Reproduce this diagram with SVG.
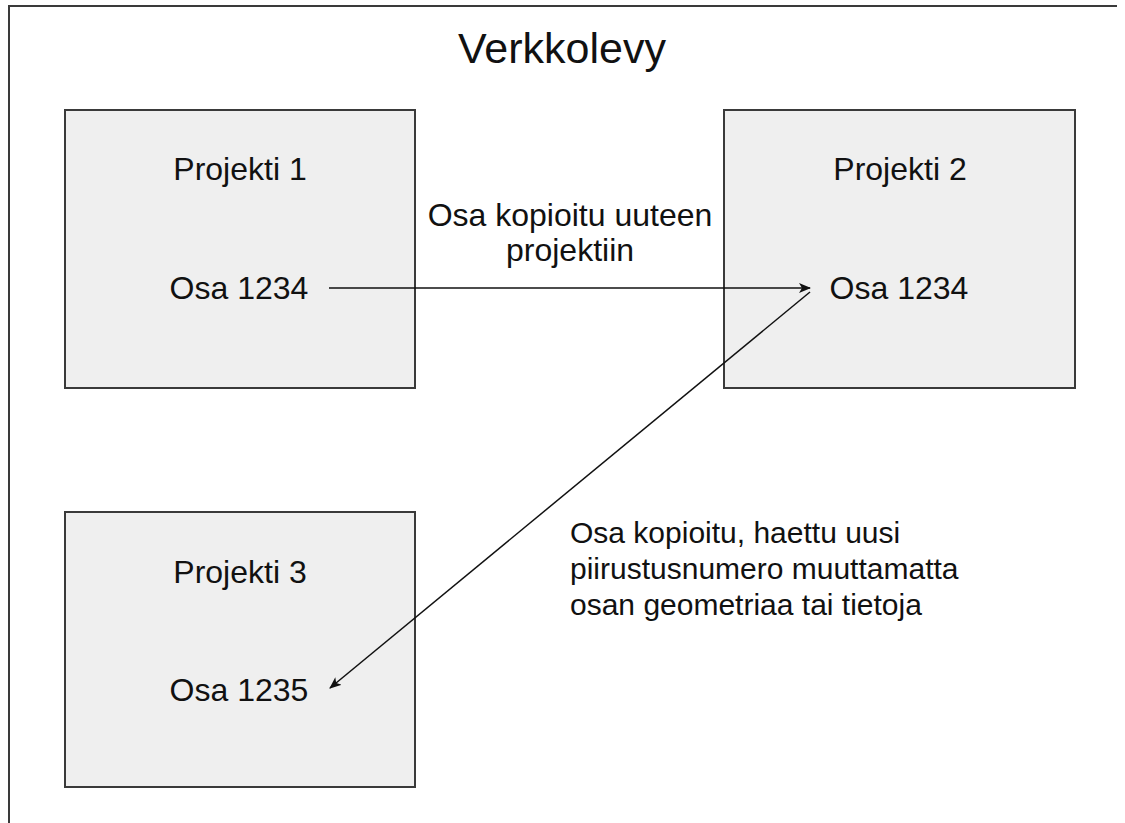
<svg xmlns="http://www.w3.org/2000/svg" width="1125" height="823" viewBox="0 0 1125 823">
<defs>
<style>
.frame{fill:none;stroke:#3a3a3a;stroke-width:2}
.box{fill:#efefef;stroke:#3a3a3a;stroke-width:2}
.t{font-family:"Liberation Sans",Arial,sans-serif;font-size:32px;fill:#111}
.c{text-anchor:middle}
.s{font-size:30px}
.edge{fill:none;stroke:#111;stroke-width:1.5}
</style>
<marker id="ah" markerWidth="12" markerHeight="10" refX="11" refY="5" orient="auto" markerUnits="userSpaceOnUse">
<path d="M0,0 L12,5 L0,10 L3,5 Z" fill="#111"/>
</marker>
</defs>
<rect width="1125" height="823" fill="#fff"/>
<path class="frame" d="M9,823 V6 H1117"/>
<text class="t c" x="562" y="63" style="font-size:43px">Verkkolevy</text>
<g id="projekti1">
<rect class="box" x="65" y="110" width="350" height="278"/>
<text class="t c" x="240" y="180">Projekti 1</text>
<text class="t c" x="239" y="299">Osa 1234</text>
</g>
<g id="projekti2">
<rect class="box" x="724" y="110" width="351" height="278"/>
<text class="t c" x="900" y="180">Projekti 2</text>
<text class="t c" x="899" y="299">Osa 1234</text>
</g>
<g id="projekti3">
<rect class="box" x="65" y="512" width="350" height="275"/>
<text class="t c" x="240" y="583">Projekti 3</text>
<text class="t c" x="239" y="701">Osa 1235</text>
</g>
<g id="connectors">
<line class="edge" x1="329" y1="288" x2="810" y2="288" marker-end="url(#ah)"/>
<line class="edge" x1="810" y1="292" x2="330" y2="688" marker-end="url(#ah)"/>
</g>
<g id="labels">
<text class="t c" x="570" y="226">Osa kopioitu uuteen</text>
<text class="t c" x="570" y="261">projektiin</text>
<text class="t s" x="570" y="543">Osa kopioitu, haettu uusi</text>
<text class="t s" x="570" y="579">piirustusnumero muuttamatta</text>
<text class="t s" x="570" y="615">osan geometriaa tai tietoja</text>
</g>
</svg>
